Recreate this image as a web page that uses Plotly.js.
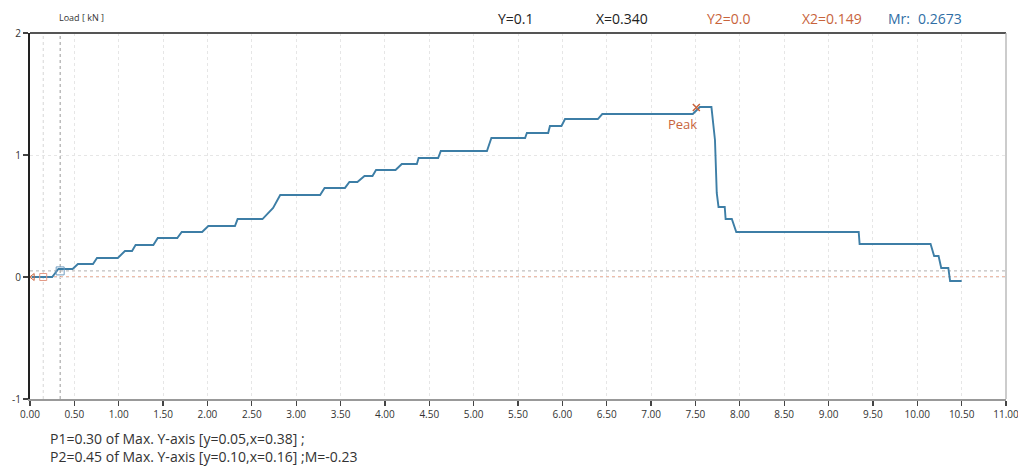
<!DOCTYPE html>
<html>
<head>
<meta charset="utf-8">
<script src="https://cdn.plot.ly/plotly-3.0.1.min.js"></script>
<style>html,body{margin:0;padding:0;background:#fff;}#chart{width:1018px;height:467px;}</style>
</head>
<body>
<div id="chart"></div>
<script>
// Displacement (x) and load (kN)
const xValues = [0.02,0.25,0.32,0.48,0.54,0.71,0.755,0.99,1.07,1.15,1.19,1.39,1.44,1.66,1.71,1.94,2.01,2.31,2.34,2.62,2.74,2.82,3.27,3.32,3.55,3.60,3.69,3.77,3.86,3.90,4.12,4.19,4.36,4.38,4.60,4.63,5.15,5.20,5.58,5.60,5.84,5.86,5.99,6.03,6.40,6.45,7.47,7.55,7.68,7.72,7.74,7.76,7.83,7.84,7.91,7.96,9.34,9.35,10.15,10.19,10.24,10.27,10.35,10.37,10.50];
const loadValues = [0.0,0.0,0.066,0.066,0.107,0.107,0.156,0.156,0.213,0.213,0.262,0.262,0.32,0.32,0.369,0.369,0.418,0.418,0.475,0.475,0.566,0.672,0.672,0.73,0.73,0.779,0.779,0.828,0.828,0.877,0.877,0.926,0.926,0.975,0.975,1.033,1.033,1.139,1.139,1.18,1.18,1.238,1.238,1.295,1.295,1.336,1.336,1.393,1.393,1.123,0.689,0.574,0.574,0.475,0.475,0.369,0.369,0.27,0.27,0.172,0.172,0.074,0.074,-0.033,-0.033];

const peakX = [7.51];
const peakY = [1.39];
const cursorX = 0.34, cursorY = 0.05;     // cursor 1 (X=0.340, Y=0.1)
const cursorX2 = 0.149, cursorY2 = 0.0;  // cursor 2 (X2=0.149, Y2=0.0)

const xTickVals = [0,0.5,1,1.5,2,2.5,3,3.5,4,4.5,5,5.5,6,6.5,7,7.5,8,8.5,9,9.5,10,10.5,11];
const yTickVals = [-1,0,1,2];
const yTickText = ['-1','0','1','2'];

const headerLabels = ['Y=0.1','X=0.340','Y2=0.0','X2=0.149','Mr:','0.2673'];
const footerLines = ['P1=0.30 of Max. Y-axis [y=0.05,x=0.38] ;','P2=0.45 of Max. Y-axis [y=0.10,x=0.16] ;M=-0.23'];

const FONT = '"Open Sans", "Noto Sans", sans-serif';
const BLUE = '#3d7ea6';
const ORANGE = '#c8643c';

const traces = [
  {x: xValues, y: loadValues, type: 'scatter', mode: 'lines',
   line: {color: BLUE, width: 1.9}, hoverinfo: 'skip'},
  {x: peakX, y: peakY, type: 'scatter', mode: 'markers',
   marker: {symbol: 'x-thin', size: 7, line: {color: ORANGE, width: 1.5}}, hoverinfo: 'skip'},
  {x: [cursorX2], y: [cursorY2], type: 'scatter', mode: 'markers',
   marker: {symbol: 'square-open', size: 7, color: '#e39a86', line: {width: 1}}, hoverinfo: 'skip'},
  {x: [cursorX], y: [cursorY], type: 'scatter', mode: 'markers',
   marker: {symbol: 'square-open', size: 8, color: '#6f9cc0', line: {width: 1}}, hoverinfo: 'skip'},
  {x: [0.03], y: [0], type: 'scatter', mode: 'markers',
   marker: {symbol: 'triangle-left-open', size: 6, color: ORANGE, line: {width: 1}}, hoverinfo: 'skip'}
];

const shapes = [
  {type:'line', xref:'x', yref:'paper', x0:cursorX2, x1:cursorX2, y0:0, y1:1, line:{color:'#d6d6d6', width:1, dash:'dot'}, layer:'below'},
  {type:'line', xref:'x', yref:'paper', x0:cursorX, x1:cursorX, y0:0, y1:1, line:{color:'#9a9a9a', width:1, dash:'dot'}, layer:'below'},
  {type:'line', xref:'paper', yref:'y', x0:0, x1:1, y0:cursorY, y1:cursorY, line:{color:'#b0b0b0', width:1, dash:'dot'}, layer:'below'},
  {type:'line', xref:'paper', yref:'y', x0:0, x1:1, y0:cursorY2, y1:cursorY2, line:{color:'#e07a55', width:1.2, dash:'dot'}, layer:'below'},
  {type:'line', xref:'paper', yref:'paper', x0:0, x1:1, y0:1, y1:1, line:{color:'#555', width:2}},
  {type:'line', xref:'paper', yref:'paper', x0:1, x1:1, y0:0, y1:1, line:{color:'#aaa', width:1.2}}
];

const hdrX = [516, 622, 729, 832, 899, 940];
const hdrColors = ['#222','#222',ORANGE,ORANGE,'#2f6ea5','#2f6ea5'];
const annotations = [];
headerLabels.forEach((t,i)=>{
  annotations.push({text:t, xref:'paper', yref:'paper', x:(hdrX[i]-30)/976, y:1, yshift:15, showarrow:false,
    xanchor:'center', yanchor:'middle', font:{family:FONT, size:14, color:hdrColors[i]}});
});
annotations.push({text:'Load [ kN ]', xref:'paper', yref:'paper', x:(57-30)/976, y:1, yshift:16, showarrow:false,
  xanchor:'left', yanchor:'middle', font:{family:FONT, size:9, color:'#333'}});
annotations.push({text:'Peak', xref:'x', yref:'y', x:peakX[0], y:peakY[0], xshift:-14, yshift:-17, showarrow:false,
  xanchor:'center', yanchor:'middle', font:{family:FONT, size:13, color:ORANGE}});
footerLines.forEach((t,i)=>{
  annotations.push({text:t, xref:'paper', yref:'paper', x:(48-30)/976, y:0, yshift:-39 - i*18, showarrow:false,
    xanchor:'left', yanchor:'middle', font:{family:FONT, size:14, color:'#333'}});
});

const layout = {
  width: 1018, height: 467,
  margin: {l: 30, r: 12, t: 33, b: 68, pad: 0},
  paper_bgcolor: '#ffffff', plot_bgcolor: '#ffffff',
  showlegend: false,
  font: {family: FONT, color: '#333'},
  xaxis: {range: [0, 11], tickvals: xTickVals, tickformat: '.2f',
    ticks: 'outside', ticklen: 5, tickwidth: 1.2, tickcolor: '#444',
    showline: true, linecolor: '#999', linewidth: 1.5,
    showgrid: true, gridcolor: '#e6e6e6', griddash: 'dot', gridwidth: 1,
    ticklabeloverflow: 'allow',
    zeroline: false, tickfont: {family: FONT, size: 10, color: '#333'}, fixedrange: true},
  yaxis: {range: [-1, 2], tickvals: yTickVals, ticktext: yTickText,
    ticks: 'outside', ticklen: 5, tickwidth: 1.2, tickcolor: '#444',
    showline: true, linecolor: '#222', linewidth: 2,
    showgrid: true, gridcolor: '#e6e6e6', griddash: 'dot', gridwidth: 1,
    zeroline: false, tickfont: {family: FONT, size: 10, color: '#333'}, fixedrange: true},
  shapes: shapes,
  annotations: annotations
};

Plotly.newPlot('chart', traces, layout, {displayModeBar: false, staticPlot: true});
</script>
</body>
</html>
